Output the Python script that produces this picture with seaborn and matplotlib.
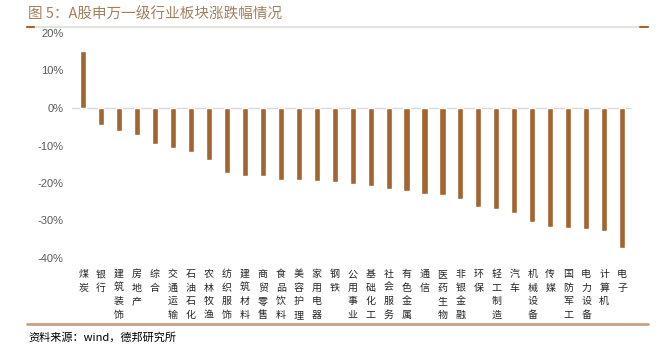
import pandas as pd
import matplotlib
matplotlib.use("Agg")
import matplotlib.pyplot as plt
import seaborn as sns
from matplotlib.lines import Line2D

# industries (SW level-1) and their change, %
industries = ["煤炭", "银行", "建筑装饰", "房地产", "综合", "交通运输", "石油石化", "农林牧渔",
              "纺织服饰", "建筑材料", "商贸零售", "食品饮料", "美容护理", "家用电器", "钢铁", "公用事业",
              "基础化工", "社会服务", "有色金属", "通信", "医药生物", "非银金融", "环保", "轻工制造",
              "汽车", "机械设备", "传媒", "国防军工", "电力设备", "计算机", "电子"]
change = [15.3, -4.5, -6.0, -7.1, -9.6, -10.7, -11.7, -13.8,
          -17.4, -18.2, -18.2, -19.1, -19.3, -19.5, -19.8, -20.2,
          -20.8, -21.5, -22.0, -22.9, -23.2, -24.2, -26.4, -26.8,
          -28.1, -30.3, -31.6, -32.1, -32.3, -32.7, -37.4]
yticks = [20, 10, 0, -10, -20, -30, -40]

df = pd.DataFrame({"industry": industries, "change": change})

sns.set_style("white")
plt.rcParams['font.family'] = ['Noto Sans CJK SC', 'DejaVu Sans']

fig = plt.figure(figsize=(6.59, 3.53), dpi=100)
ax = fig.add_axes([72/659, 1-258/353, (632-72)/659, (258-33)/353])

sns.barplot(data=df, x="industry", y="change", color="#A3642F", width=0.34,
            saturation=1, ax=ax)

ax.set_ylim(-40, 20)
ax.set_xlim(-0.62, 30.55)
ax.set_yticks(yticks)
ax.set_yticklabels([f"{v}%" for v in yticks], color="#595959", fontsize=8,
                   family=["Liberation Sans", "DejaVu Sans"])
ax.set_xticks(range(len(industries)))
ax.set_xticklabels(["\n".join(s) for s in industries], fontsize=7.2,
                   linespacing=1.45, va="top")
ax.tick_params(axis="both", length=0, pad=6)
ax.tick_params(axis="x", pad=8)
ax.set_xlabel("")
ax.set_ylabel("")
for sp in ax.spines.values():
    sp.set_visible(False)
ax.axhline(0, color="#d9d9d9", lw=1, zorder=0)

# title and decoration lines
fig.text(28/659, 1-14/353, "图 5：A股申万一级行业板块涨跌幅情况", fontsize=10.5,
         color="#A08060", va="center", ha="left")
y_top = 1 - 27/353
fig.add_artist(Line2D([27/659, 648/659], [y_top, y_top], color="#e3e3e0", lw=1.5))
fig.add_artist(Line2D([27/659, 34/659], [y_top, y_top], color="#A3642F", lw=1.5))
fig.add_artist(Line2D([640/659, 648/659], [y_top, y_top], color="#A3642F", lw=1.5))
y_bot = 1 - 324/353
fig.add_artist(Line2D([27/659, 648/659], [y_bot, y_bot], color="#C4A283", lw=2))

fig.text(28/659, 1-337/353, "资料来源：wind，德邦研究所", fontsize=8, color="black",
         va="center", ha="left")

fig.savefig("out.png", dpi=100)
